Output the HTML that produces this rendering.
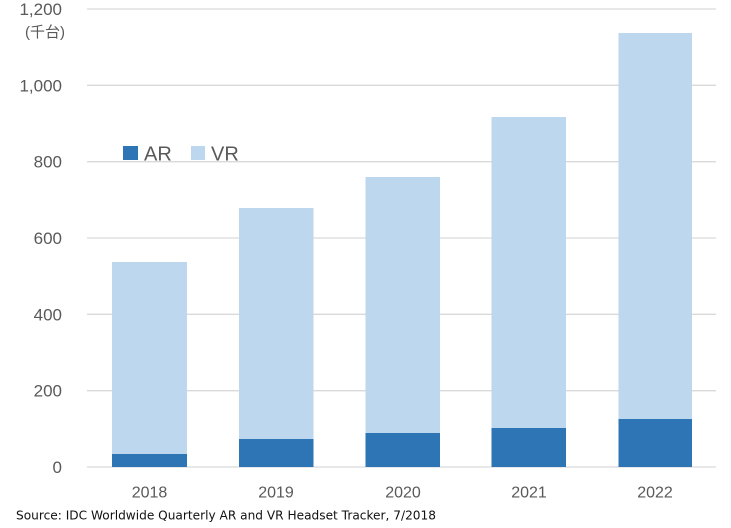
<!DOCTYPE html>
<html><head><meta charset="utf-8"><style>
html,body{margin:0;padding:0;background:#fff;}
svg{display:block;}
</style></head><body>
<svg width="731" height="528" viewBox="0 0 731 528" xmlns="http://www.w3.org/2000/svg">
<rect width="731" height="528" fill="#fff"/>
<g stroke="#D9D9D9" stroke-width="1.3">
<line x1="87" y1="9" x2="716" y2="9"/>
<line x1="87" y1="85.3" x2="716" y2="85.3"/>
<line x1="87" y1="161.7" x2="716" y2="161.7"/>
<line x1="87" y1="238" x2="716" y2="238"/>
<line x1="87" y1="314.3" x2="716" y2="314.3"/>
<line x1="87" y1="390.7" x2="716" y2="390.7"/>
<line x1="87" y1="467" x2="716" y2="467"/>
</g>
<g font-family="Liberation Sans, sans-serif" font-size="17" fill="#595959" text-anchor="end">
<text x="62" y="15">1,200</text>
<text x="62" y="91.3">1,000</text>
<text x="62" y="167.7">800</text>
<text x="62" y="244">600</text>
<text x="62" y="320.3">400</text>
<text x="62" y="396.7">200</text>
<text x="62" y="473">0</text>
</g>
<text x="25" y="37" font-family="Liberation Sans, 'Noto Sans CJK JP', sans-serif" font-size="15" fill="#595959">(千台)</text>
<!-- bars -->
<g fill="#BDD7EE">
<rect x="112" y="262" width="75" height="205"/>
<rect x="239" y="208" width="74.5" height="259"/>
<rect x="365.5" y="177" width="74.5" height="290"/>
<rect x="491.5" y="117" width="74.5" height="350"/>
<rect x="618.5" y="33" width="73.5" height="434"/>
</g>
<g fill="#2E75B6">
<rect x="112" y="454" width="75" height="13"/>
<rect x="239" y="439" width="74.5" height="28"/>
<rect x="365.5" y="433" width="74.5" height="34"/>
<rect x="491.5" y="428" width="74.5" height="39"/>
<rect x="618.5" y="419" width="73.5" height="48"/>
</g>
<!-- legend -->
<rect x="123" y="146" width="15" height="14" fill="#2E75B6"/>
<text x="144" y="160.5" font-family="Liberation Sans, sans-serif" font-size="20" fill="#595959">AR</text>
<rect x="191" y="146" width="14" height="14" fill="#BDD7EE"/>
<text x="211" y="160.5" font-family="Liberation Sans, sans-serif" font-size="20" fill="#595959">VR</text>
<!-- x labels -->
<g font-family="Liberation Sans, sans-serif" font-size="16" fill="#595959" text-anchor="middle">
<text x="149.5" y="497.5">2018</text>
<text x="276" y="497.5">2019</text>
<text x="403" y="497.5">2020</text>
<text x="529" y="497.5">2021</text>
<text x="655" y="497.5">2022</text>
</g>
<text x="16" y="519.5" font-family="DejaVu Sans, Verdana, sans-serif" font-size="12" fill="#111" textLength="420" lengthAdjust="spacingAndGlyphs">Source: IDC Worldwide Quarterly AR and VR Headset Tracker, 7/2018</text>
</svg>
</body></html>
